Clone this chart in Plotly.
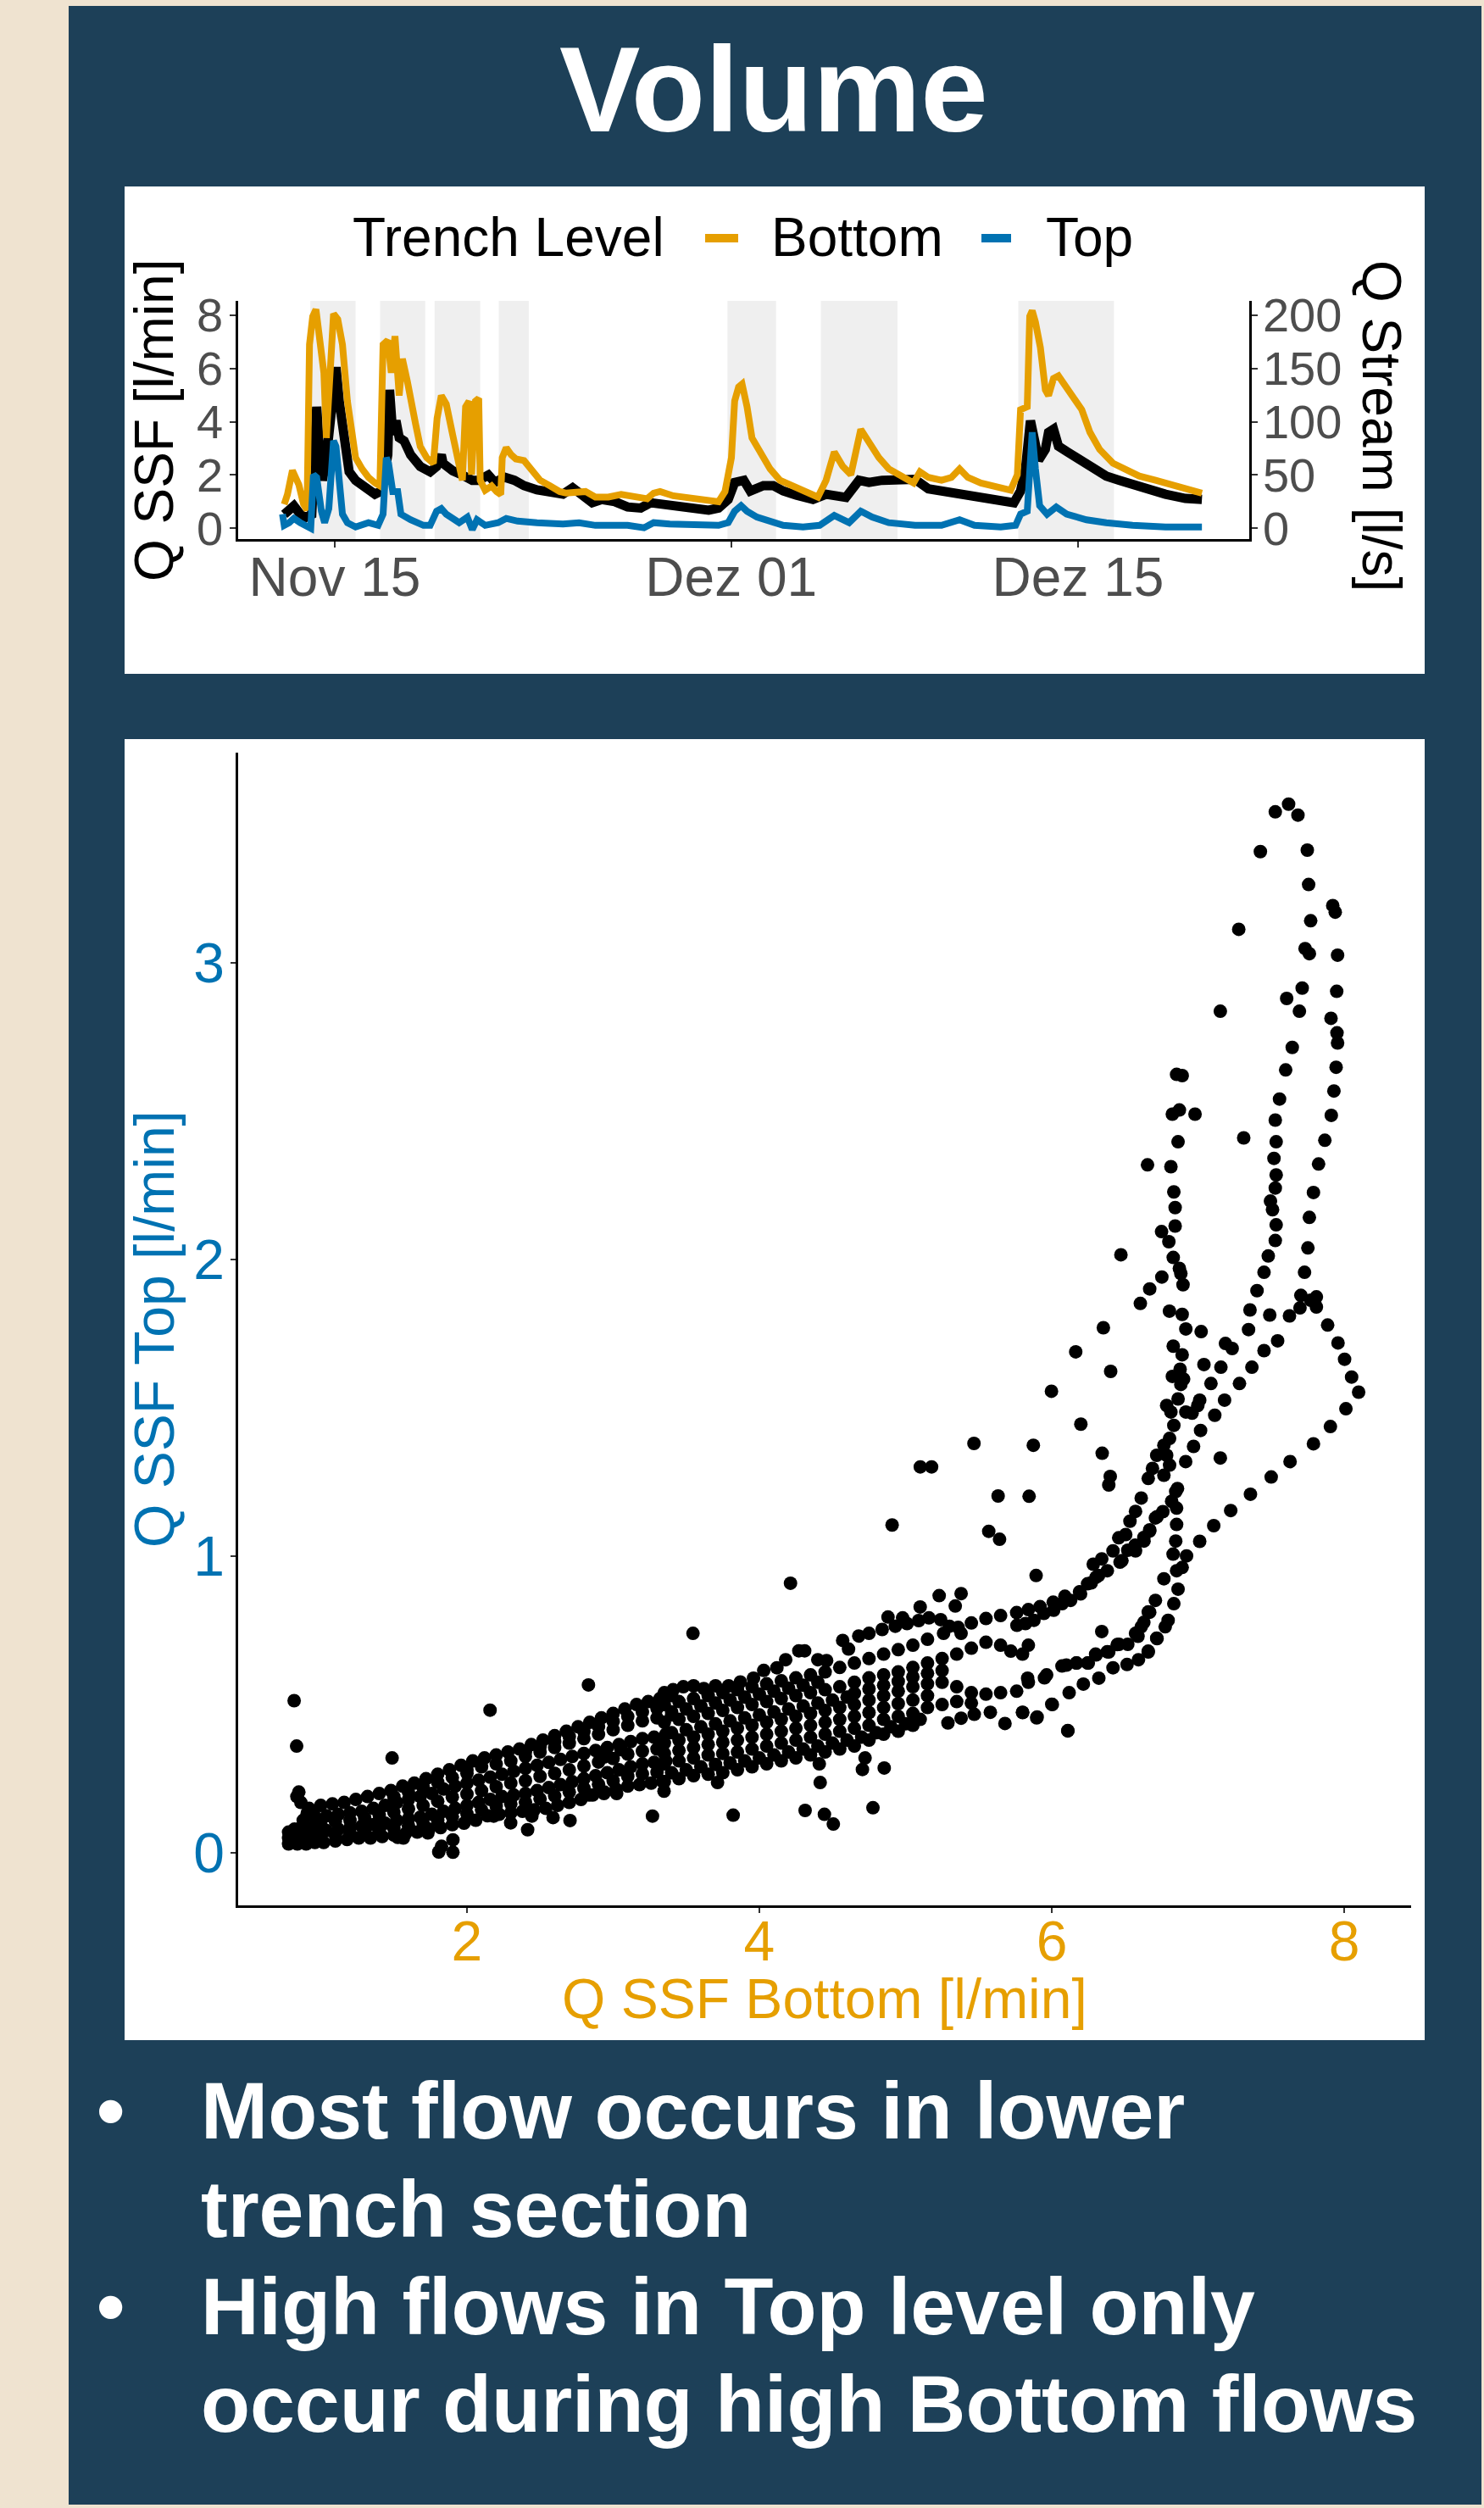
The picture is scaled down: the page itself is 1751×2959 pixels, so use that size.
import plotly.graph_objects as go

W, H = 1751, 2959
FONT = "Liberation Sans, Arial, sans-serif"
BEIGE = "#EFE3D0"
NAVY = "#1D4058"
ORANGE = "#E69F00"
BLUE = "#0072B2"
GREY_TXT = "#4D4D4D"

# ---------------- time series data (day offset from 15 Nov, value) ----------------
tick_days = [0, 16, 30]
tick_text = ["Nov 15", "Dez 01", "Dez 15"]

# Q SSF Bottom [l/min]
bottom_series = [
    (-2.04, 0.90), (-1.91, 1.27), (-1.71, 2.17), (-1.45, 1.64), (-1.26, 0.90), (-1.12, 0.69),
    (-1.02, 6.89), (-0.89, 7.95), (-0.76, 8.21), (-0.63, 7.00), (-0.44, 5.83), (-0.34, 3.39),
    (-0.21, 5.62), (-0.05, 8.05), (0.12, 7.84), (0.31, 6.89), (0.51, 4.77), (0.64, 4.03),
    (0.84, 2.65), (1.10, 2.23), (1.36, 1.91), (1.62, 1.70), (1.82, 1.59), (1.95, 6.89),
    (2.14, 7.05), (2.28, 5.83), (2.43, 7.21), (2.60, 4.98), (2.73, 6.36), (2.93, 5.51),
    (3.06, 4.77), (3.26, 3.92), (3.45, 3.07), (3.71, 2.65), (3.98, 2.44), (4.13, 4.13),
    (4.30, 4.98), (4.50, 4.66), (4.76, 3.50), (5.02, 2.44), (5.15, 1.80), (5.28, 4.56),
    (5.42, 4.77), (5.52, 2.01), (5.68, 4.77), (5.81, 4.87), (5.87, 1.80), (6.07, 1.43),
    (6.33, 1.59), (6.53, 1.38), (6.70, 1.27), (6.76, 2.65), (6.92, 3.02), (7.12, 2.76),
    (7.31, 2.60), (7.64, 2.54), (7.90, 2.23), (8.29, 1.80), (8.69, 1.59), (9.08, 1.38),
    (9.34, 1.32), (9.60, 1.32), (10.12, 1.38), (10.52, 1.17), (11.04, 1.17), (11.56, 1.27),
    (12.09, 1.17), (12.61, 1.11), (12.87, 1.32), (13.13, 1.38), (13.66, 1.22), (14.44, 1.11),
    (15.09, 1.03), (15.49, 1.00), (15.75, 1.38), (16.01, 2.65), (16.14, 4.77), (16.30, 5.30),
    (16.44, 5.41), (16.64, 4.56), (16.84, 3.39), (17.17, 2.86), (17.57, 2.23), (17.97, 1.80),
    (18.24, 1.70), (18.90, 1.43), (19.50, 1.17), (19.83, 1.80), (20.16, 2.86), (20.50, 2.33),
    (20.83, 2.01), (21.23, 3.71), (21.56, 3.18), (21.96, 2.65), (22.36, 2.23), (22.89, 1.91),
    (23.36, 1.70), (23.62, 2.12), (23.96, 1.91), (24.49, 1.80), (24.89, 1.91), (25.22, 2.23),
    (25.55, 1.91), (26.08, 1.70), (26.75, 1.53), (27.28, 1.43), (27.55, 2.01), (27.68, 4.45),
    (27.95, 4.56), (28.05, 7.95), (28.15, 8.16), (28.28, 7.74), (28.48, 6.78), (28.68, 5.19),
    (28.81, 4.98), (29.01, 5.62), (29.21, 5.72), (29.54, 5.30), (29.81, 4.87), (30.15, 4.45),
    (30.48, 3.60), (30.87, 2.96), (31.41, 2.44), (31.94, 2.17), (32.47, 1.96), (33.13, 1.80),
    (33.80, 1.64), (34.47, 1.50), (35.00, 1.32),
]

# Q SSF Top [l/min]
top_series = [
    (-2.11, 0.53), (-2.04, 0.11), (-1.84, 0.21), (-1.65, 0.37), (-1.39, 0.21), (-1.12, 0.11),
    (-0.97, 0.00), (-0.86, 2.01), (-0.73, 1.91), (-0.54, 0.64), (-0.41, 0.21), (-0.24, 0.74),
    (-0.14, 2.23), (-0.05, 3.28), (0.05, 3.07), (0.18, 1.59), (0.31, 0.53), (0.51, 0.21),
    (0.84, 0.05), (1.36, 0.21), (1.75, 0.11), (1.95, 0.53), (2.08, 2.65), (2.17, 2.44),
    (2.34, 1.38), (2.54, 1.38), (2.67, 0.53), (3.06, 0.32), (3.58, 0.11), (3.85, 0.11),
    (4.11, 0.64), (4.30, 0.74), (4.50, 0.53), (5.02, 0.21), (5.35, 0.42), (5.55, -0.05),
    (5.74, 0.32), (6.07, 0.11), (6.59, 0.21), (6.92, 0.37), (7.38, 0.27), (8.16, 0.21),
    (9.21, 0.16), (9.86, 0.21), (10.52, 0.11), (11.17, 0.11), (11.82, 0.11), (12.48, 0.02),
    (12.87, 0.21), (13.52, 0.16), (14.44, 0.13), (15.49, 0.11), (15.88, 0.21), (16.14, 0.64),
    (16.40, 0.85), (16.64, 0.64), (17.04, 0.42), (17.57, 0.27), (18.10, 0.11), (18.90, 0.05),
    (19.57, 0.11), (20.16, 0.48), (20.76, 0.21), (21.23, 0.64), (21.69, 0.42), (22.36, 0.21),
    (23.42, 0.11), (24.49, 0.11), (25.22, 0.32), (25.82, 0.11), (26.88, 0.05), (27.48, 0.11),
    (27.68, 0.53), (27.95, 0.64), (28.15, 3.60), (28.28, 2.23), (28.45, 0.85), (28.75, 0.53),
    (29.12, 0.80), (29.54, 0.53), (30.34, 0.32), (31.14, 0.21), (32.20, 0.11), (33.53, 0.05),
    (35.00, 0.05),
]

# Q Stream [l/s]
stream_series = [
    (-2.04, 13), (-1.84, 16), (-1.65, 21), (-1.39, 13), (-1.19, 10), (-0.93, 13), (-0.73, 114),
    (-0.60, 66), (-0.50, 45), (-0.34, 66), (-0.14, 114), (0.05, 151), (0.18, 119), (0.38, 80),
    (0.58, 53), (0.84, 45), (1.10, 41), (1.36, 37), (1.62, 32), (1.88, 35), (2.14, 69),
    (2.21, 130), (2.34, 88), (2.47, 101), (2.60, 85), (2.80, 82), (3.06, 69), (3.45, 58),
    (3.85, 53), (4.11, 58), (4.30, 69), (4.37, 61), (4.76, 54), (5.15, 50), (5.55, 45),
    (5.81, 45), (6.20, 50), (6.46, 43), (6.85, 48), (7.25, 45), (7.64, 40), (8.16, 36),
    (8.69, 33), (9.21, 32), (9.60, 38), (9.99, 32), (10.39, 24), (10.78, 27), (11.30, 25),
    (11.82, 20), (12.35, 19), (12.74, 24), (13.13, 23), (13.79, 20), (14.44, 19), (15.09, 17),
    (15.49, 19), (15.88, 27), (16.14, 43), (16.40, 45), (16.51, 45), (16.77, 35), (17.30, 40),
    (17.70, 40), (18.10, 35), (18.63, 31), (19.30, 27), (19.83, 32), (20.63, 29), (21.16, 45),
    (21.56, 43), (22.09, 45), (22.63, 45), (23.42, 46), (23.96, 37), (24.49, 35), (25.29, 32),
    (26.08, 29), (26.88, 27), (27.41, 24), (27.68, 35), (27.88, 56), (28.08, 101), (28.21, 85),
    (28.41, 64), (28.68, 74), (28.81, 90), (29.01, 93), (29.21, 77), (29.54, 72), (30.07, 64),
    (30.61, 56), (31.14, 49), (31.67, 45), (32.20, 41), (32.87, 36), (33.53, 32), (34.33, 28),
    (35.00, 27),
]

# grey shaded event periods (day offsets)
event_start = [-0.99, 1.83, 4.03, 6.62, 15.85, 19.62, 27.59]
event_end = [0.84, 3.65, 5.87, 7.83, 17.81, 22.71, 31.45]

# ---------------- scatter data: (Q SSF Bottom, Q SSF Top) ----------------
left_cluster = [
    (0.78, 0.05), (0.80, 0.04), (0.82, 0.06), (0.84, 0.04), (0.86, 0.05), (0.88, 0.04), (0.90, 0.06),
    (0.93, 0.05), (0.96, 0.05), (0.99, 0.06), (0.80, 0.07), (0.85, 0.08), (0.90, 0.085), (0.95, 0.09),
    (0.78, 0.07), (0.82, 0.08), (0.87, 0.07), (0.92, 0.075), (0.97, 0.075), (1.00, 0.09),
    (0.818, 0.513), (0.835, 0.360), (0.850, 0.205), (0.837, 0.190), (0.864, 0.170), (0.908, 0.134),
    (0.950, 0.135),
]
band_a1 = [
    (0.78, 0.03), (0.84, 0.03), (0.90, 0.03), (0.96, 0.035), (1.02, 0.035), (1.10, 0.04), (1.18, 0.045),
    (1.26, 0.05), (1.34, 0.05), (1.42, 0.055), (1.50, 0.06), (1.58, 0.065), (1.66, 0.07), (1.74, 0.08),
    (1.82, 0.085), (1.90, 0.095), (1.98, 0.10), (2.06, 0.11), (2.14, 0.125), (2.22, 0.13), (2.30, 0.135),
    (2.38, 0.14), (2.46, 0.145), (2.54, 0.15), (2.62, 0.16), (2.70, 0.17), (2.78, 0.18), (2.86, 0.195),
    (2.94, 0.205), (3.02, 0.215), (3.10, 0.225), (3.18, 0.23), (3.26, 0.235), (3.34, 0.24),
]
band_a15 = [
    (1.0, 0.055), (1.1, 0.06), (1.2, 0.066), (1.3, 0.071), (1.4, 0.076), (1.5, 0.084), (1.6, 0.091),
    (1.7, 0.10), (1.8, 0.11), (1.9, 0.122), (2.0, 0.132), (2.1, 0.145), (2.2, 0.158), (2.3, 0.165),
    (2.4, 0.171), (2.5, 0.182), (2.6, 0.192), (2.7, 0.205), (2.8, 0.218), (2.9, 0.231), (3.0, 0.243),
    (3.1, 0.258), (3.2, 0.266), (3.3, 0.272),
]
band_a2 = [
    (0.80, 0.06), (0.88, 0.065), (0.96, 0.07), (1.04, 0.075), (1.12, 0.08), (1.20, 0.085), (1.28, 0.09),
    (1.36, 0.095), (1.44, 0.10), (1.52, 0.11), (1.60, 0.115), (1.68, 0.12), (1.76, 0.13), (1.84, 0.14),
    (1.92, 0.15), (2.00, 0.16), (2.08, 0.17), (2.16, 0.18), (2.24, 0.19), (2.32, 0.195), (2.40, 0.20),
    (2.48, 0.21), (2.56, 0.22), (2.64, 0.23), (2.72, 0.24), (2.80, 0.25), (2.88, 0.26), (2.96, 0.27),
    (3.04, 0.28), (3.12, 0.29), (3.20, 0.30), (3.28, 0.305), (3.36, 0.31),
]
band_a25 = [
    (1.0, 0.099), (1.1, 0.106), (1.2, 0.11), (1.3, 0.118), (1.4, 0.127), (1.5, 0.137), (1.6, 0.148),
    (1.7, 0.16), (1.8, 0.174), (1.9, 0.188), (2.0, 0.198), (2.1, 0.21), (2.2, 0.223), (2.3, 0.235),
    (2.4, 0.243), (2.5, 0.258), (2.6, 0.268), (2.7, 0.28), (2.8, 0.293), (2.9, 0.306), (3.0, 0.318),
    (3.1, 0.333), (3.2, 0.343), (3.3, 0.35),
]
band_a3 = [
    (0.88, 0.11), (0.96, 0.12), (1.04, 0.125), (1.12, 0.13), (1.20, 0.135), (1.28, 0.14), (1.36, 0.15),
    (1.44, 0.16), (1.52, 0.17), (1.60, 0.18), (1.68, 0.19), (1.76, 0.20), (1.84, 0.215), (1.92, 0.225),
    (2.00, 0.235), (2.08, 0.245), (2.16, 0.255), (2.24, 0.265), (2.32, 0.275), (2.40, 0.285),
    (2.48, 0.295), (2.56, 0.305), (2.64, 0.315), (2.72, 0.325), (2.80, 0.335), (2.88, 0.345),
    (2.96, 0.355), (3.04, 0.365), (3.12, 0.375), (3.20, 0.385), (3.28, 0.39), (3.36, 0.40),
]
band_a35 = [
    (1.5, 0.19), (1.6, 0.205), (1.7, 0.221), (1.8, 0.238), (1.9, 0.254), (2.0, 0.268),
]
band_a3b = [
    (2.00, 0.28), (2.10, 0.29), (2.20, 0.30), (2.30, 0.31), (2.40, 0.325), (2.50, 0.34), (2.60, 0.355),
    (2.70, 0.37), (2.80, 0.385), (2.90, 0.40), (3.00, 0.415), (3.10, 0.43), (3.20, 0.445), (3.30, 0.455),
    (3.40, 0.465),
]
band_a3c = [
    (2.4, 0.341), (2.5, 0.358), (2.6, 0.375), (2.7, 0.392), (2.8, 0.409), (2.9, 0.426), (3.0, 0.443),
    (3.1, 0.46), (3.2, 0.475), (3.3, 0.487),
]
band_a4 = [
    (0.92, 0.15), (1.00, 0.16), (1.08, 0.165), (1.16, 0.17), (1.24, 0.18), (1.32, 0.19), (1.40, 0.20),
    (1.48, 0.21), (1.56, 0.225), (1.64, 0.235), (1.72, 0.25), (1.80, 0.265), (1.88, 0.28), (1.96, 0.295),
    (2.04, 0.31), (2.12, 0.32), (2.20, 0.33), (2.28, 0.34), (2.36, 0.35), (2.44, 0.365), (2.52, 0.38),
    (2.60, 0.395), (2.68, 0.41), (2.76, 0.425), (2.84, 0.44), (2.92, 0.455), (3.00, 0.47), (3.08, 0.485),
    (3.16, 0.50), (3.24, 0.51), (3.32, 0.52), (3.40, 0.53),
]
low_outliers = [
    (1.488, 0.320), (2.158, 0.481), (2.831, 0.566), (3.269, 0.124), (3.348, 0.208), (1.904, 0.044),
    (1.826, 0.022), (1.807, 0.003), (1.904, 0.002), (1.733, 0.067), (1.527, 0.052), (1.565, 0.050),
    (2.183, 0.124), (2.299, 0.101), (2.415, 0.078), (2.589, 0.119), (2.705, 0.109), (2.444, 0.124),
    (2.835, 0.195), (2.937, 0.200), (3.024, 0.200), (3.053, 0.348), (2.937, 0.323),
]
mid_r1 = [
    (3.35, 0.54), (3.41, 0.55), (3.48, 0.56), (3.55, 0.563), (3.62, 0.554), (3.70, 0.563), (3.79, 0.563),
    (3.87, 0.576), (3.96, 0.589), (4.03, 0.615), (4.12, 0.624), (4.18, 0.651), (4.27, 0.681),
    (4.31, 0.681), (4.40, 0.651), (4.46, 0.648), (4.57, 0.716), (4.61, 0.687), (4.68, 0.731),
    (4.75, 0.740), (4.84, 0.753), (4.88, 0.795), (4.93, 0.764), (4.98, 0.792), (5.01, 0.773),
    (5.09, 0.783), (5.10, 0.829), (5.16, 0.792), (5.23, 0.867), (5.24, 0.786), (5.30, 0.764),
    (5.34, 0.832), (5.38, 0.874), (5.38, 0.740),
]
mid_r2 = [
    (3.35, 0.50), (3.45, 0.51), (3.55, 0.52), (3.65, 0.53), (3.75, 0.54), (3.85, 0.55), (3.95, 0.56),
    (4.05, 0.57), (4.15, 0.58), (4.25, 0.59), (4.35, 0.60), (4.45, 0.61), (4.55, 0.625), (4.65, 0.64),
    (4.75, 0.655), (4.85, 0.67), (4.95, 0.685), (5.05, 0.70), (5.15, 0.72), (5.26, 0.74), (5.36, 0.76),
    (5.45, 0.775), (5.55, 0.79), (5.65, 0.80), (5.76, 0.81), (5.84, 0.82), (5.92, 0.83), (6.01, 0.845),
    (6.09, 0.865), (6.19, 0.88), (6.27, 0.91), (6.32, 0.935),
]
mid_r23 = [
    (3.40, 0.475), (3.50, 0.485), (3.60, 0.495), (3.70, 0.505), (3.80, 0.515), (3.90, 0.525),
    (4.00, 0.535), (4.10, 0.545), (4.20, 0.555), (4.30, 0.565), (4.40, 0.575),
]
mid_r3 = [
    (3.35, 0.44), (3.45, 0.45), (3.55, 0.46), (3.65, 0.47), (3.75, 0.48), (3.85, 0.49), (3.95, 0.50),
    (4.05, 0.51), (4.15, 0.52), (4.25, 0.53), (4.35, 0.54), (4.45, 0.55), (4.55, 0.56), (4.65, 0.575),
    (4.75, 0.59), (4.85, 0.60), (4.95, 0.61), (5.05, 0.625), (5.15, 0.64), (5.25, 0.655), (5.35, 0.67),
    (5.45, 0.69), (5.55, 0.71), (5.65, 0.70), (5.72, 0.68), (5.80, 0.67), (5.84, 0.70),
]
mid_r34 = [
    (3.40, 0.405), (3.50, 0.415), (3.60, 0.425), (3.70, 0.435), (3.80, 0.445), (3.90, 0.455),
    (4.00, 0.465), (4.10, 0.475), (4.20, 0.485), (4.30, 0.495), (4.40, 0.505), (4.50, 0.515),
    (4.60, 0.525),
]
mid_r35 = [
    (4.65, 0.538), (4.75, 0.553), (4.85, 0.565), (4.95, 0.578), (5.05, 0.593), (5.15, 0.605), (5.25, 0.615),
]
mid_r4 = [
    (3.35, 0.37), (3.45, 0.38), (3.55, 0.39), (3.65, 0.40), (3.75, 0.41), (3.85, 0.42), (3.95, 0.43),
    (4.05, 0.44), (4.15, 0.45), (4.25, 0.46), (4.35, 0.47), (4.45, 0.48), (4.55, 0.49), (4.65, 0.50),
    (4.75, 0.515), (4.85, 0.53), (4.95, 0.545), (5.05, 0.56), (5.15, 0.57), (5.25, 0.575), (5.35, 0.56),
    (5.45, 0.54), (5.55, 0.535), (5.65, 0.54), (5.76, 0.545), (5.84, 0.575), (5.95, 0.59), (6.07, 0.63),
    (6.17, 0.64), (6.25, 0.64), (6.30, 0.67),
]
mid_r45 = [
    (3.35, 0.335), (3.45, 0.345), (3.55, 0.355), (3.65, 0.365), (3.75, 0.373), (3.85, 0.38), (3.95, 0.39),
    (4.05, 0.40), (4.15, 0.41), (4.25, 0.42), (4.35, 0.43), (4.45, 0.44), (4.55, 0.45), (4.65, 0.46),
    (4.75, 0.473), (4.85, 0.49), (4.95, 0.503), (5.05, 0.515), (5.15, 0.53),
]
mid_r5 = [
    (3.35, 0.30), (3.45, 0.31), (3.55, 0.32), (3.65, 0.33), (3.75, 0.335), (3.85, 0.34), (3.95, 0.35),
    (4.05, 0.36), (4.15, 0.37), (4.25, 0.38), (4.35, 0.39), (4.45, 0.40), (4.55, 0.41), (4.65, 0.42),
    (4.75, 0.43), (4.85, 0.45), (4.95, 0.46), (5.05, 0.47), (5.15, 0.49), (5.25, 0.50), (5.35, 0.51),
    (5.45, 0.505),
]
mid_r56 = [
    (3.40, 0.27), (3.50, 0.28), (3.60, 0.29), (3.70, 0.298), (3.80, 0.303), (3.90, 0.31), (4.00, 0.32),
    (4.10, 0.33), (4.20, 0.34), (4.30, 0.35), (4.40, 0.36), (4.50, 0.37), (4.60, 0.38), (4.70, 0.39),
    (4.80, 0.405), (4.90, 0.425), (5.00, 0.435), (5.10, 0.45),
]
mid_r6 = [
    (3.35, 0.24), (3.45, 0.25), (3.55, 0.26), (3.65, 0.265), (3.75, 0.27), (3.85, 0.28), (3.95, 0.29),
    (4.05, 0.30), (4.15, 0.31), (4.25, 0.32), (4.35, 0.33), (4.45, 0.34), (4.55, 0.35), (4.65, 0.36),
    (4.75, 0.38), (4.85, 0.40), (4.95, 0.41), (5.05, 0.43),
]
mid_low_chain = [
    (5.29, 0.438), (5.38, 0.454), (5.47, 0.467), (5.58, 0.474), (5.68, 0.436), (5.80, 0.474),
    (5.90, 0.458), (6.00, 0.501), (6.11, 0.412),
]
mid_outliers = [
    (3.546, 0.740), (4.213, 0.909), (4.908, 1.105), (5.101, 1.301), (5.178, 1.301), (5.468, 1.380),
    (5.633, 1.203), (5.569, 1.084), (5.643, 1.057), (3.821, 0.127), (4.313, 0.143), (4.445, 0.130),
    (4.506, 0.097), (4.777, 0.152), (4.416, 0.237), (3.714, 0.237), (4.854, 0.286), (4.705, 0.281),
    (4.723, 0.320), (4.410, 0.300),
]
right_outer_loop = [
    (7.529, 3.509), (7.620, 3.535), (7.684, 3.498), (7.427, 3.375), (7.748, 3.380), (7.757, 3.264),
    (7.771, 3.142), (7.733, 3.048), (7.762, 3.031), (7.922, 3.193), (7.939, 3.171), (7.955, 3.026),
    (7.949, 2.904), (7.910, 2.813), (7.951, 2.764), (7.955, 2.730), (7.945, 2.648), (7.930, 2.568),
    (7.912, 2.486), (7.868, 2.402), (7.825, 2.322), (7.790, 2.226), (7.762, 2.142), (7.752, 2.039),
    (7.729, 1.957), (7.704, 1.879), (7.771, 1.863), (7.810, 1.874), (7.810, 1.840), (7.698, 1.837),
    (7.626, 1.810), (7.887, 1.779), (7.958, 1.719), (8.003, 1.664), (8.051, 1.604), (8.099, 1.553),
    (8.012, 1.497), (7.906, 1.437), (7.790, 1.379), (7.630, 1.319), (7.501, 1.267), (7.359, 1.209),
    (7.224, 1.154), (7.108, 1.103), (7.012, 1.050), (6.922, 1.001),
]
right_mid_loop = [
    (7.713, 2.915), (7.694, 2.837), (7.607, 2.880), (7.645, 2.715), (7.600, 2.639), (7.558, 2.541),
    (7.529, 2.470), (7.535, 2.397), (7.520, 2.341), (7.535, 2.285), (7.529, 2.241), (7.496, 2.197),
    (7.510, 2.168), (7.535, 2.117), (7.529, 2.064), (7.481, 2.012), (7.452, 1.957), (7.404, 1.895),
    (7.356, 1.830), (7.346, 1.764), (7.491, 1.813), (7.545, 1.726), (7.452, 1.693), (7.369, 1.637),
    (7.284, 1.582), (7.182, 1.526), (7.115, 1.475), (7.018, 1.424), (6.970, 1.370), (6.916, 1.319),
    (7.153, 1.331), (7.188, 1.717), (7.234, 1.700), (7.157, 1.637), (7.041, 1.646), (7.089, 1.582),
    (7.022, 1.757), (7.012, 1.526), (6.999, 1.508), (6.960, 1.482), (6.917, 1.486),
]
right_column = [
    (6.854, 2.624), (6.892, 2.620), (6.825, 2.490), (6.873, 2.504), (6.980, 2.490), (6.864, 2.397),
    (6.815, 2.313), (6.835, 2.228), (6.844, 2.175), (6.844, 2.113), (6.801, 2.060), (6.831, 2.007),
    (6.873, 1.970), (6.883, 1.953), (6.898, 1.915), (6.805, 1.826), (6.892, 1.815), (6.917, 1.766),
    (6.831, 1.708), (6.892, 1.679), (6.878, 1.630), (6.902, 1.597), (6.883, 1.579), (6.825, 1.606),
    (6.864, 1.530), (6.786, 1.508), (6.815, 1.486), (6.835, 1.441), (6.806, 1.397), (6.767, 1.374),
    (6.786, 1.340), (6.806, 1.307), (6.767, 1.273), (6.718, 1.340), (6.689, 1.296), (6.660, 1.262),
    (6.612, 1.196), (6.573, 1.151), (6.535, 1.118), (6.848, 1.218), (6.854, 1.162), (6.854, 1.107),
    (6.848, 1.051), (6.830, 1.007), (6.854, 0.951), (6.864, 0.889), (6.835, 0.840), (6.796, 0.784),
    (6.776, 0.762), (6.767, 0.924), (6.892, 0.962), (6.709, 1.129), (6.670, 1.085), (6.631, 1.051),
    (6.573, 1.018), (6.709, 0.851), (6.670, 0.811), (6.612, 0.762), (6.573, 0.740),
]
right_low_arcs = [
    (6.506, 1.073), (6.458, 1.062), (6.419, 1.018), (6.342, 0.991), (6.284, 0.973), (6.467, 0.980),
    (6.380, 0.951), (6.303, 0.929), (6.245, 0.907), (6.197, 0.873), (6.129, 0.851), (6.071, 0.840),
    (6.013, 0.818), (5.946, 0.807), (5.878, 0.784), (5.820, 0.773), (5.762, 0.767), (6.718, 0.724),
    (6.660, 0.680), (6.593, 0.651), (6.515, 0.635), (6.448, 0.702), (6.380, 0.678), (6.303, 0.667),
    (6.245, 0.640), (6.168, 0.640), (6.100, 0.633), (6.419, 0.624), (6.322, 0.589), (6.216, 0.569),
    (6.119, 0.540), (6.004, 0.500), (5.897, 0.455), (5.801, 0.473), (6.110, 0.411), (5.965, 0.600),
    (5.835, 0.589), (6.342, 0.746), (6.57, 1.037), (6.63, 1.063), (6.67, 1.089), (6.72, 1.133),
    (6.76, 1.150), (6.82, 1.185), (6.86, 1.228), (6.48, 0.985), (6.52, 1.020), (6.59, 0.730),
    (6.63, 0.777), (6.66, 0.812), (6.52, 0.703), (6.46, 0.703), (6.39, 0.677), (6.72, 0.722),
    (6.66, 0.677),
]
upper_outliers = [
    (7.279, 3.113), (7.153, 2.837), (7.313, 2.410), (6.655, 2.319), (6.751, 2.094), (6.753, 1.941),
    (6.670, 1.901), (6.606, 1.852), (6.473, 2.016), (6.353, 1.770), (6.164, 1.689), (6.403, 1.623),
    (5.998, 1.556), (6.199, 1.445), (5.874, 1.374), (6.345, 1.347), (6.400, 1.269), (6.390, 1.240),
    (5.845, 1.202), (5.893, 0.935),
]

scatter_groups = [left_cluster, band_a1, band_a15, band_a2, band_a25, band_a3, band_a35, band_a3b,
                  band_a3c, band_a4, low_outliers, mid_r1, mid_r2, mid_r23, mid_r3, mid_r34, mid_r35,
                  mid_r4, mid_r45, mid_r5, mid_r56, mid_r6, mid_low_chain, mid_outliers,
                  right_outer_loop, right_mid_loop, right_column, right_low_arcs, upper_outliers]

ssf_bottom = [p[0] for g in scatter_groups for p in g]
ssf_top = [p[1] for g in scatter_groups for p in g]


def fx(p):
    return p / W


def fy(p):
    return 1 - p / H


fig = go.Figure()

# black Q stream on the base (right) axis so it is drawn beneath the SSF lines
fig.add_trace(go.Scatter(x=[d for d, _ in stream_series], y=[v for _, v in stream_series],
                         mode="lines", line=dict(color="black", width=11),
                         xaxis="x", yaxis="y", name="Q Stream", showlegend=False))
fig.add_trace(go.Scatter(x=[d for d, _ in bottom_series], y=[v for _, v in bottom_series],
                         mode="lines", line=dict(color=ORANGE, width=8),
                         xaxis="x", yaxis="y2", name="Bottom", showlegend=False))
fig.add_trace(go.Scatter(x=[d for d, _ in top_series], y=[v for _, v in top_series],
                         mode="lines", line=dict(color=BLUE, width=8),
                         xaxis="x", yaxis="y2", name="Top", showlegend=False))
fig.add_trace(go.Scatter(x=ssf_bottom, y=ssf_top, mode="markers",
                         marker=dict(color="black", size=16, line=dict(width=0)),
                         xaxis="x3", yaxis="y3", name="SSF", showlegend=False))

shapes = [
    dict(type="rect", xref="paper", yref="paper", x0=fx(81), x1=fx(1748), y0=fy(2955), y1=fy(7),
         fillcolor=NAVY, line=dict(width=0), layer="below"),
    dict(type="rect", xref="paper", yref="paper", x0=fx(147), x1=fx(1681), y0=fy(795), y1=fy(220),
         fillcolor="white", line=dict(width=0), layer="below"),
    dict(type="rect", xref="paper", yref="paper", x0=fx(147), x1=fx(1681), y0=fy(2407), y1=fy(872),
         fillcolor="white", line=dict(width=0), layer="below"),
    # legend keys
    dict(type="rect", xref="paper", yref="paper", x0=fx(832), x1=fx(871), y0=fy(286), y1=fy(276),
         fillcolor=ORANGE, line=dict(width=0)),
    dict(type="rect", xref="paper", yref="paper", x0=fx(1158), x1=fx(1193), y0=fy(286), y1=fy(276),
         fillcolor=BLUE, line=dict(width=0)),
]
for s, e in zip(event_start, event_end):
    shapes.append(dict(type="rect", xref="x", yref="y domain", x0=s, x1=e, y0=0, y1=1,
                       fillcolor="#EFEFEF", line=dict(width=0), layer="below"))


def ann(text, x, y, size, color, xanchor="center", angle=0, bold=False):
    return dict(text=f"<b>{text}</b>" if bold else text, x=fx(x), y=fy(y), xref="paper", yref="paper",
                xanchor=xanchor, yanchor="middle", showarrow=False, textangle=angle,
                font=dict(family=FONT, size=size, color=color))


annotations = [
    ann("Volume", 913, 105, 143, "white", bold=True),
    ann("Trench Level", 414, 280, 64, "black", xanchor="left"),
    ann("Bottom", 908, 280, 64, "black", xanchor="left"),
    ann("Top", 1232, 280, 64, "black", xanchor="left"),
    ann("Q SSF [l/min]", 182, 496, 64, "black", angle=-90),
    ann("Q Stream [l/s]", 1630, 502, 64, "black", angle=90),
    ann("Q SSF Bottom [l/min]", 973, 2358, 66, ORANGE),
    ann("Q SSF Top [l/min]", 182, 1568, 66, BLUE, angle=-90),
    ann("•", 130, 2490, 95, "white", bold=True),
    ann("•", 130, 2721, 95, "white", bold=True),
    ann("Most flow occurs in lower", 235, 2490, 95, "white", xanchor="left", bold=True),
    ann("trench section", 235, 2606, 95, "white", xanchor="left", bold=True),
    ann("High flows in Top level only", 235, 2721, 95, "white", xanchor="left", bold=True),
    ann("occur during high Bottom flows", 235, 2836, 95, "white", xanchor="left", bold=True),
]

axis_common = dict(showgrid=False, zeroline=False, showline=True, linecolor="black", linewidth=2.5,
                   ticks="outside", tickwidth=2, tickcolor="#333333", automargin=False)

fig.update_layout(
    width=W, height=H, margin=dict(l=0, r=0, t=0, b=0, pad=0, autoexpand=False),
    paper_bgcolor=BEIGE, plot_bgcolor="rgba(0,0,0,0)", showlegend=False,
    shapes=shapes, annotations=annotations,
    xaxis=dict(domain=[fx(281), fx(1474)], anchor="y", range=[-3.90, 36.91],
               tickmode="array", tickvals=tick_days, ticktext=tick_text, ticklen=7, ticklabelstandoff=-20,
               tickfont=dict(family=FONT, size=64, color=GREY_TXT), **axis_common),
    yaxis=dict(domain=[fy(636), fy(355)], anchor="x", side="right", range=[-10.1, 213.3],
               tickmode="array", tickvals=[0, 50, 100, 150, 200], ticklen=7, ticklabelstandoff=-5,
               tickfont=dict(family=FONT, size=56, color=GREY_TXT), **axis_common),
    yaxis2=dict(overlaying="y", anchor="x", side="left", range=[-0.404, 8.531],
                tickmode="array", tickvals=[0, 2, 4, 6, 8], ticklen=7, ticklabelstandoff=-3,
                tickfont=dict(family=FONT, size=56, color=GREY_TXT), **axis_common),
    xaxis3=dict(domain=[fx(281), fx(1665)], anchor="y3", range=[0.435, 8.458],
                tickmode="array", tickvals=[2, 4, 6, 8], ticklen=6, ticklabelstandoff=-23,
                tickfont=dict(family=FONT, size=66, color=ORANGE), **axis_common),
    yaxis3=dict(domain=[fy(2248), fy(887.5)], anchor="x3", range=[-0.177, 3.710],
                tickmode="array", tickvals=[0, 1, 2, 3], ticklen=6, ticklabelstandoff=-6,
                tickfont=dict(family=FONT, size=66, color=BLUE), **axis_common),
)

page_fix = ("document.documentElement.style.margin='0';document.documentElement.style.padding='0';"
            "document.body.style.margin='0';document.body.style.padding='0';"
            "document.documentElement.style.overflow='hidden';document.body.style.overflow='hidden';"
            "var gd=document.getElementById('{plot_id}');gd.style.position='absolute';"
            "gd.style.left='0px';gd.style.top='0px';")

fig.write_html("out.html", post_script=page_fix, config={"displayModeBar": False})
